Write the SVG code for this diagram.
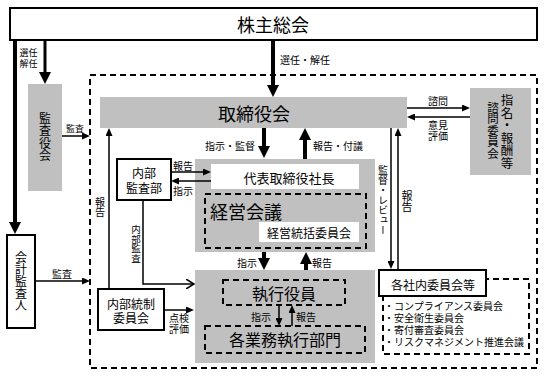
<svg xmlns="http://www.w3.org/2000/svg" width="544" height="376" viewBox="0 0 544 376">
<style>
text{font-family:"Noto Sans CJK JP","Noto Sans CJK SC",sans-serif;fill:#000}
.c{text-anchor:middle;dominant-baseline:central}
.s{text-anchor:start;dominant-baseline:central}
.v{writing-mode:vertical-rl;text-anchor:start}
.big{font-size:18px}
.f16{font-size:16px}
.f13{font-size:13px}
.f12{font-size:12px}
.f10{font-size:10px}
.f9{font-size:9px}
.box{fill:#fff;stroke:#000;stroke-width:2}
.gray{fill:#c0c0c0;stroke:none}
.white{fill:#fff;stroke:none}
.dash{fill:none;stroke:#000;stroke-width:2;stroke-dasharray:6 4}
.thick{stroke:#000;stroke-width:4;fill:none;marker-end:url(#big)}
.thin{stroke:#000;stroke-width:1.5;fill:none;marker-end:url(#sm)}
.open{stroke:#000;stroke-width:1.5;fill:none;marker-end:url(#op)}
</style>
<defs>
<marker id="big" viewBox="0 0 12 12" refX="1" refY="6" markerWidth="12" markerHeight="12" markerUnits="userSpaceOnUse" orient="auto"><path d="M0,0 L12,6 L0,12 z" fill="#000"/></marker>
<marker id="sm" viewBox="0 0 8 7" refX="1" refY="3.5" markerWidth="8" markerHeight="7" markerUnits="userSpaceOnUse" orient="auto"><path d="M0,0 L8,3.5 L0,7 z" fill="#000"/></marker>
<marker id="op" viewBox="0 0 9 10" refX="8" refY="5" markerWidth="9" markerHeight="10" markerUnits="userSpaceOnUse" orient="auto"><path d="M0,0 L8,5 L0,10" fill="none" stroke="#000" stroke-width="1.5"/></marker>
</defs>

<rect id="outer-scope" class="dash" x="90" y="75" width="447" height="293"/>

<g id="shareholders">
<rect class="box" x="10" y="8" width="527" height="32"/>
<text class="c big" x="273" y="24">株主総会</text>
</g>

<g id="auditors-board">
<rect class="gray" x="28" y="84" width="34" height="107"/>
<text class="v f12" x="45" y="112" style="letter-spacing:0.5px">監査役会</text>
</g>

<g id="accounting-auditor">
<rect class="box" x="7" y="235" width="28" height="93"/>
<text class="v f12" x="21" y="251">会計監査人</text>
</g>

<g id="board">
<rect class="gray" x="100" y="97" width="307" height="31"/>
<text class="c big" x="254" y="113">取締役会</text>
</g>

<g id="nomination-committee">
<rect class="gray" x="470" y="88" width="61" height="87"/>
<text class="v" x="507" y="94" style="font-size:12.5px">指名・報酬等</text>
<text class="v" x="493" y="101.5" style="font-size:11.5px">諮問委員会</text>
</g>

<g id="internal-audit">
<rect class="box" x="117" y="159" width="54" height="41"/>
<text class="c f12" x="144" y="172">内部</text>
<text class="c f12" x="144" y="187">監査部</text>
</g>

<g id="management-block">
<rect class="gray" x="195" y="159" width="180" height="93"/>
</g>

<g id="president">
<rect class="white" x="211" y="164" width="148" height="25"/>
<text class="c f13" x="289" y="177">代表取締役社長</text>
</g>

<g id="management-meeting">
<rect class="dash" x="205" y="194" width="161" height="54"/>
<text class="s big" x="210" y="211">経営会議</text>
</g>

<g id="management-committee">
<rect class="white" x="259" y="222" width="100" height="20"/>
<text class="c f12" x="309" y="232">経営統括委員会</text>
</g>

<g id="execution-block">
<rect class="gray" x="195" y="270" width="180" height="93"/>
</g>

<g id="officers">
<rect class="dash" x="223" y="280" width="122" height="25"/>
<text class="c f16" x="284" y="293">執行役員</text>
</g>

<g id="departments">
<rect class="dash" x="205" y="326" width="160" height="27"/>
<text class="c f16" x="285" y="339">各業務執行部門</text>
</g>

<g id="internal-control">
<rect class="box" x="98" y="289" width="66" height="41"/>
<text class="c f12" x="131" y="303">内部統制</text>
<text class="c f12" x="131" y="317">委員会</text>
</g>

<g id="committee-list">
<rect class="dash" x="383" y="279" width="146" height="75"/>
<text class="s f10" x="384" y="305">・コンプライアンス委員会</text>
<text class="s f10" x="384" y="317">・安全衛生委員会</text>
<text class="s f10" x="384" y="329">・寄付審査委員会</text>
<text class="s f10" x="384" y="341">・リスクマネジメント推進会議</text>
</g>

<g id="internal-committees">
<rect class="box" x="379" y="270" width="107" height="26"/>
<text class="c f12" x="433" y="284">各社内委員会等</text>
</g>

<g id="connectors">
<line class="thick" x1="15" y1="40" x2="15" y2="223"/>
<line class="thick" x1="45" y1="40" x2="45" y2="73" style="stroke-width:3"/>
<text class="c f9" x="28.5" y="52">選任</text>
<text class="c f9" x="28.5" y="63">解任</text>
<line class="thick" x1="273" y1="40" x2="273" y2="86"/>
<text class="c f10" x="305" y="59">選任・解任</text>
<line class="thin" x1="62" y1="136" x2="83" y2="136"/>
<text class="c f9" x="75" y="128">監査</text>
<line class="thin" x1="35" y1="281" x2="83" y2="281"/>
<text class="c f10" x="62" y="273">監査</text>
<line class="thick" x1="264" y1="128" x2="264" y2="147"/>
<text class="c f10" x="230" y="145">指示・監督</text>
<line class="thick" x1="305" y1="159" x2="305" y2="139"/>
<text class="c f10" x="338" y="145">報告・付議</text>
<line class="thin" x1="171" y1="172" x2="204" y2="172"/>
<text class="c f10" x="183" y="165">報告</text>
<line class="thin" x1="211" y1="181" x2="178" y2="181"/>
<text class="c f10" x="183" y="190">指示</text>
<polyline class="open" points="143,200 143,284 194,284"/>
<text class="v" x="136" y="225" style="font-size:9.5px">内部監査</text>
<line class="thin" x1="109" y1="289" x2="109" y2="135"/>
<text class="v f10" x="100" y="197">報告</text>
<line class="thin" x1="164" y1="310" x2="187" y2="310"/>
<text class="c f10" x="179" y="317">点検</text>
<text class="c f10" x="179" y="328">評価</text>
<line class="thick" x1="264" y1="252" x2="264" y2="259"/>
<text class="c f10" x="247" y="262">指示</text>
<line class="thick" x1="306" y1="270" x2="306" y2="263"/>
<text class="c f10" x="322" y="262">報告</text>
<line class="thin" x1="279" y1="305" x2="279" y2="319"/>
<text class="c f10" x="261" y="316">指示</text>
<line class="thin" x1="292" y1="326" x2="292" y2="312"/>
<text class="c f10" x="306" y="316">報告</text>
<line class="thin" x1="407" y1="108" x2="463" y2="108"/>
<text class="c f10" x="438" y="100">諮問</text>
<line class="thin" x1="470" y1="117" x2="414" y2="117"/>
<text class="c f10" x="438" y="124">意見</text>
<text class="c f10" x="438" y="135">評価</text>
<line class="thin" x1="391" y1="128" x2="391" y2="262"/>
<text class="v f10" x="383" y="165">監督・レビュー</text>
<line class="thin" x1="398" y1="270" x2="398" y2="135"/>
<text class="v f10" x="407" y="190" style="font-size:11px">報告</text>
</g>
</svg>
